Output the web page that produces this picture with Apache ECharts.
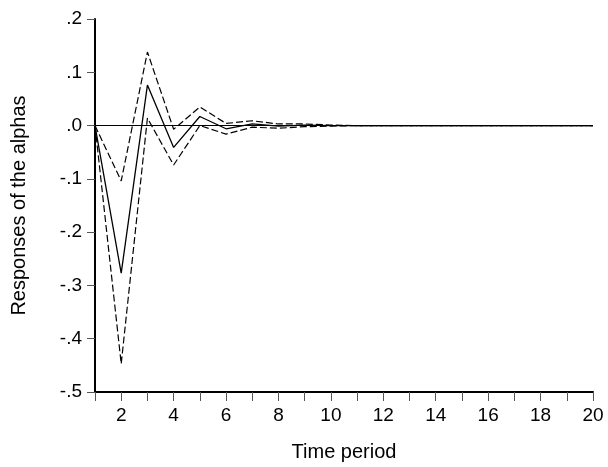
<!DOCTYPE html>
<html>
<head>
<meta charset="utf-8">
<script src="https://cdn.jsdelivr.net/npm/echarts@6/dist/echarts.min.js"></script>
<style>
  html, body { margin: 0; padding: 0; background: #fff; }
  #chart { width: 608px; height: 467px; }
</style>
</head>
<body>
<div id="chart"></div>
<script>
// Impulse response of the alphas with its confidence band
const periods = [1, 2, 3, 4, 5, 6, 7, 8, 9, 10, 11, 12, 13, 14, 15, 16, 17, 18, 19, 20];
const response = [0, -0.277, 0.076, -0.041, 0.017, -0.006, 0.003, -0.001, 0.001, 0, 0, 0, 0, 0, 0, 0, 0, 0, 0, 0];
const upperBand = [0, -0.104, 0.138, -0.007, 0.035, 0.004, 0.009, 0.003, 0.003, 0.001, 0, 0, 0, 0, 0, 0, 0, 0, 0, 0];
const lowerBand = [0, -0.447, 0.014, -0.074, 0.0, -0.016, -0.003, -0.005, -0.002, -0.001, 0, 0, 0, 0, 0, 0, 0, 0, 0, 0];
const yTicks = [0.2, 0.1, 0, -0.1, -0.2, -0.3, -0.4, -0.5];

const pairs = (ys) => periods.map((x, i) => [x, ys[i]]);
const fmtY = (v) => {
  const r = Math.round(v * 10) / 10;
  const s = Math.abs(r).toFixed(1).replace(/^0/, '');
  return (r < 0 ? '-' : '') + s;
};
const font = '"Liberation Sans", Arial, sans-serif';

const chart = echarts.init(document.getElementById('chart'), null, { renderer: 'canvas' });
chart.setOption({
  animation: false,
  backgroundColor: '#fff',
  grid: { left: 95, right: 15, top: 19, bottom: 74.5, containLabel: false },
  xAxis: {
    type: 'value',
    min: 1, max: 20, interval: 1,
    name: 'Time period',
    nameLocation: 'middle',
    nameGap: 50,
    nameTextStyle: { color: '#000', fontSize: 20, fontFamily: font },
    axisLine: { show: true, onZero: false, lineStyle: { color: '#000', width: 2 } },
    axisTick: { show: true, length: 9, lineStyle: { color: '#555', width: 1 } },
    axisLabel: {
      color: '#000', fontSize: 19, fontFamily: font, margin: 14,
      formatter: (v) => (v % 2 === 0 ? String(v) : '')
    },
    splitLine: { show: false }
  },
  yAxis: {
    type: 'value',
    min: -0.5, max: 0.2, interval: 0.1,
    name: 'Responses of the alphas',
    nameLocation: 'middle',
    nameGap: 66,
    nameTextStyle: { color: '#000', fontSize: 20, fontFamily: font },
    axisLine: { show: true, onZero: false, lineStyle: { color: '#000', width: 2 } },
    axisTick: { show: true, length: 8, lineStyle: { color: '#555', width: 1 } },
    axisLabel: {
      color: '#000', fontSize: 19, fontFamily: font, margin: 13,
      formatter: (v) => (yTicks.some(t => Math.abs(t - v) < 1e-9) ? fmtY(v) : '')
    },
    splitLine: { show: false }
  },
  series: [
    {
      type: 'line', data: pairs(response), symbol: 'none',
      lineStyle: { color: '#000', width: 1.3 },
      markLine: {
        silent: true, symbol: 'none', label: { show: false },
        lineStyle: { color: '#000', width: 1, type: 'solid' },
        data: [{ yAxis: 0 }]
      },
      z: 3
    },
    {
      type: 'line', data: pairs(upperBand), symbol: 'none',
      lineStyle: { color: '#000', width: 1.2, type: [7, 3] }, z: 2
    },
    {
      type: 'line', data: pairs(lowerBand), symbol: 'none',
      lineStyle: { color: '#000', width: 1.2, type: [7, 3] }, z: 2
    }
  ]
});
</script>
</body>
</html>
